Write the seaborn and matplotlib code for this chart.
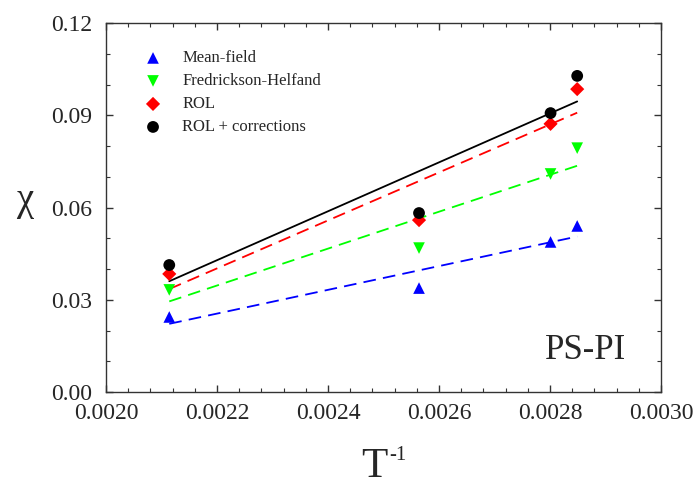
import numpy as np
import pandas as pd
import matplotlib
matplotlib.use("Agg")
import matplotlib.pyplot as plt
from matplotlib.ticker import MultipleLocator, FormatStrFormatter
import seaborn as sns

# Inverse temperature (1/K) of the four measurements
inv_T = [0.002114, 0.002564, 0.002801, 0.002849]

# Flory-Huggins chi for PS-PI from each model
chi_mean_field = [0.0244, 0.0338, 0.0488, 0.0540]
chi_fh = [0.0332, 0.0468, 0.0709, 0.0793]
chi_rol = [0.0384, 0.0559, 0.0872, 0.0985]
chi_rol_corr = [0.0413, 0.0582, 0.0907, 0.1028]

labels = ["Mean-field", "Fredrickson-Helfand", "ROL", "ROL + corrections"]
series = [chi_mean_field, chi_fh, chi_rol, chi_rol_corr]
colors = ["#0000FF", "#00FF00", "#FF0000", "#000000"]
markers = ["^", "v", "D", "o"]
marker_sizes = [70, 70, 52, 72]
linestyles = ["dashed", "dashed", "dashed", "solid"]

df = pd.concat(
    [pd.DataFrame({"invT": inv_T, "chi": vals, "model": lab}) for lab, vals in zip(labels, series)],
    ignore_index=True,
)

sns.set_theme(style="ticks")
plt.rcParams["font.family"] = ["Liberation Serif", "DejaVu Serif"]
plt.rcParams["axes.edgecolor"] = "#333333"

fig = plt.figure(figsize=(6.93, 4.87), dpi=100)
ax = fig.add_axes([106 / 693, 1 - 392 / 487, (661 - 106) / 693, (392 - 23) / 487])

# Linear fit through each model's points, plus the points themselves
for lab, col, mk, ms, ls in zip(labels, colors, markers, marker_sizes, linestyles):
    sub = df[df["model"] == lab]
    line_kws = dict(color=col, lw=1.3)
    if ls == "dashed":
        line_kws["dashes"] = (7, 4)
    sns.regplot(data=sub, x="invT", y="chi", ax=ax, scatter=False, ci=None,
                truncate=True, line_kws=line_kws)
    sns.scatterplot(data=sub, x="invT", y="chi", ax=ax, color=col, marker=mk,
                    s=ms, edgecolor="none", label=lab, zorder=3)

ax.set_xlim(0.0020, 0.0030)
ax.set_ylim(0.0, 0.12)
ax.xaxis.set_major_locator(MultipleLocator(0.0002))
ax.xaxis.set_minor_locator(MultipleLocator(0.00004))
ax.yaxis.set_major_locator(MultipleLocator(0.03))
ax.yaxis.set_minor_locator(MultipleLocator(0.01))
ax.xaxis.set_major_formatter(FormatStrFormatter("%.4f"))
ax.yaxis.set_major_formatter(FormatStrFormatter("%.2f"))

ax.tick_params(which="both", direction="in", top=True, right=True, color="#333333")
ax.tick_params(which="major", length=5, width=1, labelsize=17)
ax.tick_params(axis="y", which="major", pad=10)
ax.tick_params(axis="x", which="major", pad=8)
ax.tick_params(which="minor", length=3, width=0.8)
for sp in ax.spines.values():
    sp.set_linewidth(1.0)

ax.set_ylabel("χ", rotation=0, fontsize=28, va="center", ha="center")
ax.yaxis.set_label_coords(-0.146, 0.52)
ax.set_xlabel("")
ax.text(0.484, -0.2304, "T", transform=ax.transAxes, fontsize=31,
        ha="center", va="baseline")
ax.text(0.510, -0.184, "-1", transform=ax.transAxes, fontsize=15,
        ha="left", va="baseline")

ax.text(0.791, 0.0894, "PS-PI", transform=ax.transAxes, fontsize=25,
        ha="left", va="baseline")

ax.legend(loc="upper left", bbox_to_anchor=(0.0697, 0.926), frameon=False,
          fontsize=12, handlelength=1.0, handletextpad=1.24, labelspacing=0.42,
          borderpad=0, borderaxespad=0)

fig.savefig("out.png", dpi=100)
